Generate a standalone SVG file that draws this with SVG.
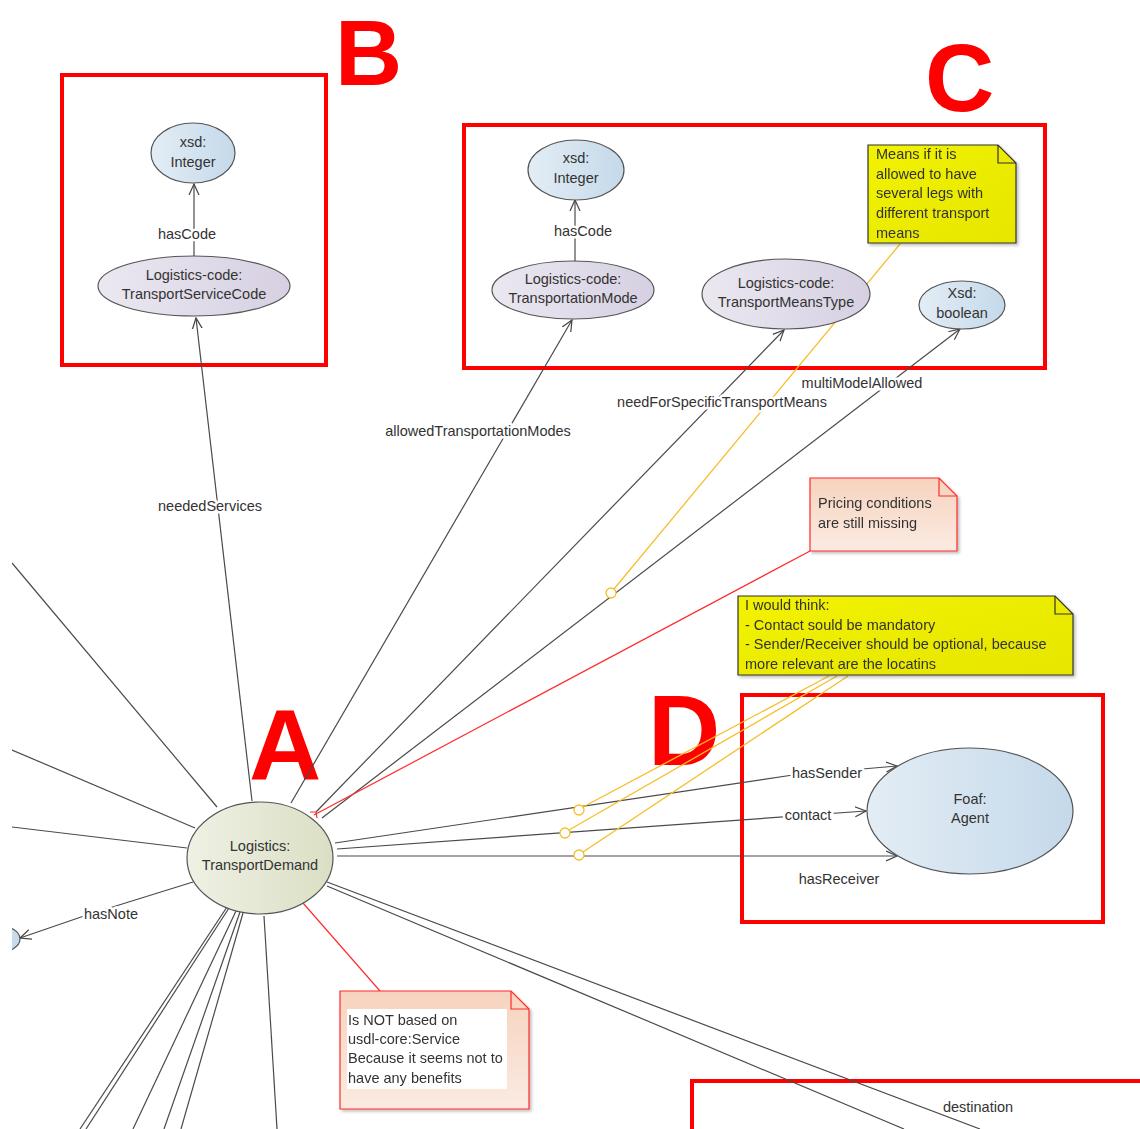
<svg xmlns="http://www.w3.org/2000/svg" width="1140" height="1129" viewBox="0 0 1140 1129">
<defs>
<linearGradient id="gBlue" x1="0" y1="0" x2="1" y2="0"><stop offset="0" stop-color="#e3edf5"/><stop offset="1" stop-color="#c5d9ea"/></linearGradient>
<linearGradient id="gPurple" x1="0" y1="0" x2="1" y2="0"><stop offset="0" stop-color="#ebe8f1"/><stop offset="1" stop-color="#d6d0e2"/></linearGradient>
<linearGradient id="gGreen" x1="0" y1="0" x2="1" y2="0"><stop offset="0" stop-color="#eff1e4"/><stop offset="1" stop-color="#dadfc4"/></linearGradient>
<linearGradient id="gYellow" x1="0" y1="0" x2="1" y2="1"><stop offset="0" stop-color="#f2f200"/><stop offset="1" stop-color="#e6e600"/></linearGradient>
<linearGradient id="gSalmon" x1="0" y1="0" x2="0" y2="1"><stop offset="0" stop-color="#f6d3be"/><stop offset="1" stop-color="#fbebe2"/></linearGradient>
<filter id="sh" x="-10%" y="-10%" width="130%" height="130%"><feDropShadow dx="2" dy="2" stdDeviation="1.5" flood-color="#000" flood-opacity="0.25"/></filter>
<marker id="arr" viewBox="0 0 12 12" refX="11" refY="6" markerWidth="12" markerHeight="12" markerUnits="userSpaceOnUse" orient="auto"><path d="M0,1 L11,6 L0,11" fill="none" stroke="#444" stroke-width="1.2"/></marker>
<clipPath id="clipLeft"><rect x="12" y="0" width="1128" height="1129"/></clipPath>
<style>
.t{font-family:"Liberation Sans",Arial,sans-serif;font-size:14.5px;fill:#333;}
.c{text-anchor:middle;}
.lbl{paint-order:stroke;stroke:#fff;stroke-width:5px;stroke-linejoin:round;}
.big{font-family:"Liberation Sans",Arial,sans-serif;font-weight:bold;font-size:100px;fill:#ff0000;}
.box{fill:none;stroke:#ff0000;stroke-width:4;}
.ln{fill:none;stroke:#4a4a4a;stroke-width:1.2;}
.ar{marker-end:url(#arr);}
.node{stroke:#555;stroke-width:1.2;}
.yl{fill:none;stroke:#f5be2a;stroke-width:1.3;}
.yc{fill:#fff;stroke:#f5be2a;stroke-width:1.3;}
.rl{fill:none;stroke:#ff2a2a;stroke-width:1.2;}
</style>
</defs>
<rect width="1140" height="1129" fill="#fff"/>

<g id="frames">
<rect class="box" x="62" y="75" width="264" height="290"/>
<rect class="box" x="464" y="125" width="581" height="243"/>
<rect class="box" x="742" y="695" width="361" height="227"/>
<rect class="box" x="692" y="1081" width="470" height="80"/>
<text class="big" x="335" y="85" style="font-size:93px">B</text>
<text class="big" x="925" y="111" style="font-size:96px">C</text>
<text class="big" x="249" y="780">A</text>
<text class="big" x="648" y="765">D</text>
</g>

<g id="connectors">
<line class="ln ar" x1="194" y1="256" x2="194" y2="184"/>
<line class="ln ar" x1="575" y1="261" x2="575" y2="200"/>
<line class="ln ar" x1="252" y1="801" x2="196" y2="318"/>
<line class="ln ar" x1="291" y1="803" x2="572" y2="320"/>
<line class="ln ar" x1="316" y1="812" x2="784" y2="330"/>
<line class="ln ar" x1="322" y1="818" x2="960" y2="329"/>
<polyline class="ln ar" points="335,843 793,775 897,766"/>
<line class="ln ar" x1="337" y1="849" x2="866" y2="811"/>
<line class="ln ar" x1="337" y1="856" x2="897" y2="856"/>
<polyline class="ln ar" points="193,882 119,905 84,916 20,938"/>
<g clip-path="url(#clipLeft)">
<line class="ln" x1="12" y1="563" x2="217" y2="807"/>
<line class="ln" x1="12" y1="750" x2="195" y2="828"/>
<line class="ln" x1="12" y1="827" x2="187" y2="848"/>
</g>
<line class="ln" x1="227" y1="907" x2="80" y2="1129"/>
<line class="ln" x1="229" y1="908" x2="86" y2="1129"/>
<line class="ln" x1="236" y1="911" x2="133" y2="1129"/>
<line class="ln" x1="240" y1="912" x2="164" y2="1129"/>
<line class="ln" x1="243" y1="913" x2="181" y2="1129"/>
<line class="ln" x1="264" y1="916" x2="277" y2="1129"/>
<line class="ln" x1="327" y1="882" x2="980" y2="1129"/>
<line class="ln" x1="327" y1="886" x2="904" y2="1129"/>
<line class="rl" x1="810" y1="551" x2="314" y2="815"/>
<path class="rl" d="M310,812 L316,812 L317,818"/>
<line class="rl" x1="380" y1="991" x2="303" y2="903"/>
<line class="yl" x1="900" y1="244" x2="614" y2="589"/>
<circle class="yc" cx="611" cy="593" r="5"/>
<line class="yl" x1="829" y1="676" x2="583" y2="807"/>
<line class="yl" x1="837" y1="676" x2="569" y2="830"/>
<line class="yl" x1="848" y1="676" x2="583" y2="852"/>
<circle class="yc" cx="579" cy="810" r="5"/>
<circle class="yc" cx="565" cy="833" r="5"/>
<circle class="yc" cx="579" cy="855" r="5"/>
<text class="t c lbl" x="187" y="239">hasCode</text>
<text class="t c lbl" x="583" y="236">hasCode</text>
<text class="t c lbl" x="210" y="511">neededServices</text>
<text class="t c lbl" x="478" y="436">allowedTransportationModes</text>
<text class="t c lbl" x="722" y="407">needForSpecificTransportMeans</text>
<text class="t c lbl" x="862" y="388">multiModelAllowed</text>
<text class="t c lbl" x="827" y="778">hasSender</text>
<text class="t c lbl" x="808" y="820">contact</text>
<text class="t c lbl" x="839" y="884">hasReceiver</text>
<text class="t c lbl" x="111" y="919">hasNote</text>
<text class="t c lbl" x="978" y="1112">destination</text>
</g>

<g id="n-int-b">
<ellipse class="node" cx="193" cy="153" rx="42" ry="30" fill="url(#gBlue)"/>
<text class="t c" x="193" y="147">xsd:</text>
<text class="t c" x="193" y="167">Integer</text>
</g>
<g id="n-tsc">
<ellipse class="node" cx="194" cy="286" rx="96" ry="30" fill="url(#gPurple)"/>
<text class="t c" x="194" y="280">Logistics-code:</text>
<text class="t c" x="194" y="299">TransportServiceCode</text>
</g>
<g id="n-int-c">
<ellipse class="node" cx="576" cy="170" rx="48" ry="30" fill="url(#gBlue)"/>
<text class="t c" x="576" y="163">xsd:</text>
<text class="t c" x="576" y="183">Integer</text>
</g>
<g id="n-tm">
<ellipse class="node" cx="573" cy="290" rx="81" ry="29" fill="url(#gPurple)"/>
<text class="t c" x="573" y="284">Logistics-code:</text>
<text class="t c" x="573" y="303">TransportationMode</text>
</g>
<g id="n-tmt">
<ellipse class="node" cx="786" cy="294" rx="84" ry="35" fill="url(#gPurple)"/>
<text class="t c" x="786" y="288">Logistics-code:</text>
<text class="t c" x="786" y="307">TransportMeansType</text>
</g>
<g id="n-bool">
<ellipse class="node" cx="962" cy="305" rx="43" ry="24" fill="url(#gBlue)"/>
<text class="t c" x="962" y="298">Xsd:</text>
<text class="t c" x="962" y="318">boolean</text>
</g>
<g id="n-td">
<ellipse class="node" cx="260" cy="858" rx="73" ry="56" fill="url(#gGreen)"/>
<text class="t c" x="260" y="851">Logistics:</text>
<text class="t c" x="260" y="870">TransportDemand</text>
</g>
<g id="n-agent">
<ellipse class="node" cx="970" cy="811" rx="103" ry="63" fill="url(#gBlue)"/>
<text class="t c" x="970" y="804">Foaf:</text>
<text class="t c" x="970" y="823">Agent</text>
</g>
<g id="n-note-target" clip-path="url(#clipLeft)">
<ellipse class="node" cx="-4" cy="939" rx="24" ry="14" fill="url(#gBlue)"/>
</g>

<g id="note-means" filter="url(#sh)">
<path d="M868,145 H998 L1016,163 V243 H868 Z" fill="url(#gYellow)" stroke="#333" stroke-width="1.2"/>
<path d="M998,145 V163 H1016" fill="none" stroke="#333" stroke-width="1.2"/>
<text class="t" x="876" y="159">Means if it is</text>
<text class="t" x="876" y="179">allowed to have</text>
<text class="t" x="876" y="198">several legs with</text>
<text class="t" x="876" y="218">different transport</text>
<text class="t" x="876" y="238">means</text>
</g>
<g id="note-pricing" filter="url(#sh)">
<path d="M810,478 H939 L957,496 V551 H810 Z" fill="url(#gSalmon)" stroke="#ff2a2a" stroke-width="1.2"/>
<path d="M939,478 V496 H957" fill="none" stroke="#ff2a2a" stroke-width="1.2"/>
<text class="t" x="818" y="508">Pricing conditions</text>
<text class="t" x="818" y="528">are still missing</text>
</g>
<g id="note-think" filter="url(#sh)">
<path d="M738,596 H1055 L1073,614 V675 H738 Z" fill="url(#gYellow)" stroke="#333" stroke-width="1.2"/>
<path d="M1055,596 V614 H1073" fill="none" stroke="#333" stroke-width="1.2"/>
<text class="t" x="745" y="610">I would think:</text>
<text class="t" x="745" y="630">- Contact sould be mandatory</text>
<text class="t" x="745" y="649">- Sender/Receiver should be optional, because</text>
<text class="t" x="745" y="669">more relevant are the locatins</text>
</g>
<g id="note-notbased" filter="url(#sh)">
<path d="M340,991 H511 L529,1009 V1109 H340 Z" fill="url(#gSalmon)" stroke="#ff2a2a" stroke-width="1.2"/>
<path d="M511,991 V1009 H529" fill="none" stroke="#ff2a2a" stroke-width="1.2"/>
<rect x="347" y="1009" width="160" height="80" fill="#fff"/>
<text class="t" x="348" y="1025">Is NOT based on</text>
<text class="t" x="348" y="1044">usdl-core:Service</text>
<text class="t" x="348" y="1063">Because it seems not to</text>
<text class="t" x="348" y="1083">have any benefits</text>
</g>
</svg>
